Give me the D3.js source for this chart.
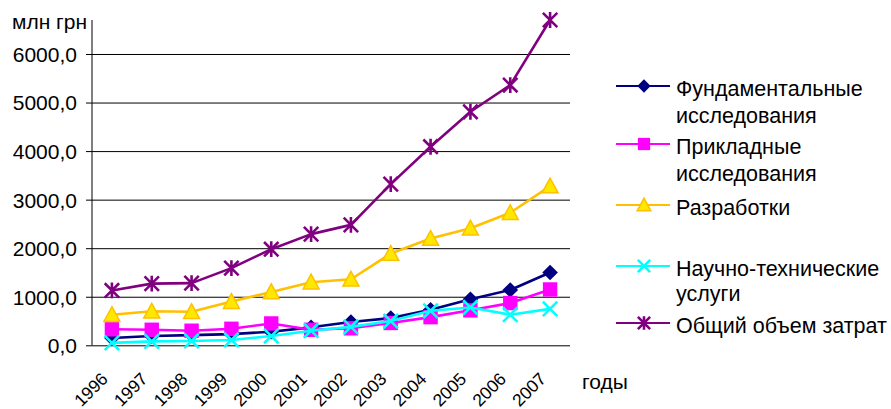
<!DOCTYPE html>
<html>
<head>
<meta charset="utf-8">
<script src="https://cdn.jsdelivr.net/npm/d3@7"></script>
<style>
  html, body { margin: 0; padding: 0; background: #fff; }
  svg { display: block; font-family: "Liberation Sans", Arial, sans-serif; }
</style>
</head>
<body>
<svg id="chart" width="891" height="409"></svg>
<script>
// Years on the category axis
const years = ["1996","1997","1998","1999","2000","2001","2002","2003","2004","2005","2006","2007"];

// Expenditure series, млн грн
const fundamental = [150, 190, 210, 230, 280, 370, 480, 560, 730, 950, 1140, 1500];
const applied     = [330, 320, 300, 340, 450, 320, 350, 460, 580, 720, 870, 1150];
const development = [630, 700, 690, 900, 1100, 1300, 1360, 1890, 2200, 2410, 2730, 3280];
const services    = [50, 80, 90, 110, 190, 300, 380, 500, 710, 780, 630, 750];
const total       = [1130, 1270, 1280, 1590, 1980, 2290, 2480, 3320, 4090, 4810, 5360, 6700];

// Axis ticks
const yTicks = [0, 1000, 2000, 3000, 4000, 5000, 6000];
const yTickLabels = ["0,0", "1000,0", "2000,0", "3000,0", "4000,0", "5000,0", "6000,0"];

const seriesNames = ["Фундаментальные исследования", "Прикладные исследования", "Разработки",
                     "Научно-технические услуги", "Общий объем затрат"];

const series = [
  { name: seriesNames[0], values: fundamental, color: "#000080", marker: "diamond", fill: "#000080",
    legendLines: ["Фундаментальные", "исследования"] },
  { name: seriesNames[1], values: applied, color: "#FF00FF", marker: "square", fill: "#FF00FF",
    legendLines: ["Прикладные", "исследования"] },
  { name: seriesNames[2], values: development, color: "#FFC000", marker: "triangle", fill: "#FFE800",
    legendLines: ["Разработки"] },
  { name: seriesNames[3], values: services, color: "#00FFFF", marker: "cross", fill: "none",
    legendLines: ["Научно-технические", "услуги"] },
  { name: seriesNames[4], values: total, color: "#800080", marker: "star", fill: "none",
    legendLines: ["Общий объем затрат"] }
];

const svg = d3.select("#chart");

const plot = { left: 92, right: 570, top: 20, bottom: 345.3 };

const x = d3.scalePoint().domain(years).range([plot.left, plot.right]).padding(0.5);
const y = d3.scaleLinear().domain([0, 6700]).range([plot.bottom, plot.top]);

// Horizontal gridlines with short ticks left of the axis
const yAxis = d3.axisLeft(y).tickValues(yTicks)
  .tickSize(-(plot.right - plot.left))
  .tickSizeOuter(0)
  .tickFormat((d, i) => yTickLabels[i]);

const gy = svg.append("g").attr("transform", `translate(${plot.left},0)`).call(yAxis);
gy.select(".domain").remove();
gy.selectAll(".tick line").attr("stroke", "#000").attr("x1", -6);
gy.selectAll(".tick text")
  .attr("x", -15).attr("dy", "0.35em")
  .attr("font-size", 21).attr("fill", "#000")
  .attr("font-family", "Liberation Sans, Arial, sans-serif");

// Vertical axis line
svg.append("line")
  .attr("x1", plot.left).attr("x2", plot.left)
  .attr("y1", plot.top).attr("y2", plot.bottom)
  .attr("stroke", "#000");

// Unit label
svg.append("text").attr("x", 12).attr("y", 29)
  .attr("font-size", 21).text("млн грн");

// Category labels, rotated
const gx = svg.append("g");
gx.selectAll("text").data(years).enter().append("text")
  .attr("text-anchor", "end")
  .attr("font-size", 17.5)
  .attr("transform", d => `translate(${x(d) - 3},380) rotate(-45)`)
  .text(d => d);

svg.append("text").attr("x", 582).attr("y", 389)
  .attr("font-size", 21).text("годы");

// Marker shapes
function drawMarker(g, type, cx, cy, s, color, fill) {
  if (type === "diamond") {
    g.append("path")
      .attr("d", `M${cx},${cy - s}L${cx + s},${cy}L${cx},${cy + s}L${cx - s},${cy}Z`)
      .attr("fill", fill);
  } else if (type === "square") {
    g.append("rect").attr("x", cx - s).attr("y", cy - s)
      .attr("width", 2 * s).attr("height", 2 * s).attr("fill", fill);
  } else if (type === "triangle") {
    g.append("path")
      .attr("d", `M${cx},${cy - s}L${cx + s},${cy + s * 0.85}L${cx - s},${cy + s * 0.85}Z`)
      .attr("fill", fill).attr("stroke", color).attr("stroke-width", 1.5)
      .attr("stroke-linejoin", "miter");
  } else if (type === "cross") {
    g.append("path")
      .attr("d", `M${cx - s},${cy - s}L${cx + s},${cy + s}M${cx - s},${cy + s}L${cx + s},${cy - s}`)
      .attr("stroke", color).attr("stroke-width", 2.6).attr("fill", "none");
  } else if (type === "star") {
    g.append("path")
      .attr("d", `M${cx - s},${cy - s}L${cx + s},${cy + s}M${cx - s},${cy + s}L${cx + s},${cy - s}` +
                 `M${cx},${cy - s * 1.1}L${cx},${cy + s * 1.1}`)
      .attr("stroke", color).attr("stroke-width", 2.6).attr("fill", "none");
  }
}

const markerSize = { diamond: 7.8, square: 7.2, triangle: 8, cross: 7.2, star: 7.2 };

const line = d3.line().x((d, i) => x(years[i])).y(d => y(d));

series.forEach(s => {
  const g = svg.append("g");
  g.append("path").datum(s.values)
    .attr("d", line)
    .attr("fill", "none")
    .attr("stroke", s.color)
    .attr("stroke-width", 2.6)
    .attr("stroke-linejoin", "round");
  s.values.forEach((v, i) => {
    drawMarker(g, s.marker, x(years[i]), y(v), markerSize[s.marker], s.color, s.fill);
  });
});

// Legend
const legendRows = [
  { baselines: [96, 123] },
  { baselines: [154, 181] },
  { baselines: [215] },
  { baselines: [276, 301] },
  { baselines: [333] }
];

const legend = svg.append("g");
series.forEach((s, i) => {
  const row = legendRows[i];
  const ly = row.baselines[0] - 10;
  legend.append("line")
    .attr("x1", 616).attr("x2", 670).attr("y1", ly).attr("y2", ly)
    .attr("stroke", s.color).attr("stroke-width", 2.2);
  drawMarker(legend, s.marker, 644, ly, markerSize[s.marker] * 0.85, s.color, s.fill);
  s.legendLines.forEach((t, j) => {
    legend.append("text").attr("x", 676).attr("y", row.baselines[j])
      .attr("font-size", 21.5).text(t);
  });
});
</script>
</body>
</html>
